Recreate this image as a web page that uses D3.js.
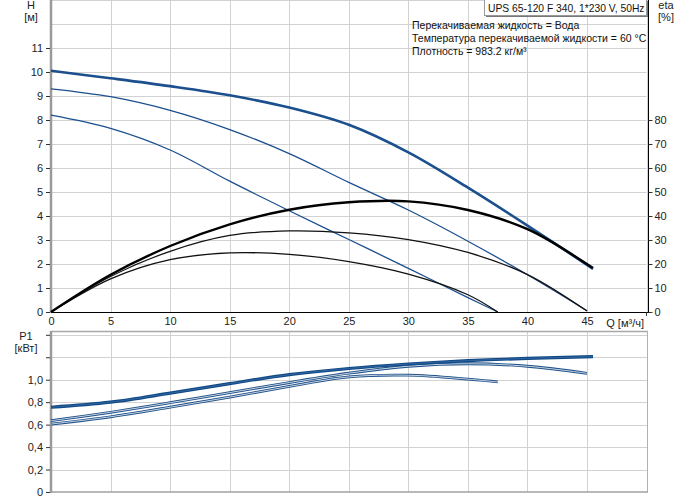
<!DOCTYPE html>
<html><head><meta charset="utf-8">
<script src="https://cdn.jsdelivr.net/npm/d3@7"></script>
<style>
body{margin:0;background:#fff;}
svg{display:block;font-family:"Liberation Sans",Arial,sans-serif;}
</style></head><body>
<svg id="c" width="691" height="500"></svg>
<script>
// ---------- data ----------
const qTicks = [0,5,10,15,20,25,30,35,40,45];
const hTicks = [0,1,2,3,4,5,6,7,8,9,10,11];
const etaTicks = [0,10,20,30,40,50,60,70,80];
const pTicks = [0,0.2,0.4,0.6,0.8,1.0,1.2,1.4];
const pTickLabels = ["0","0,2","0,4","0,6","0,8","1,0","",""];

const qH1 = [0,5,10,15,20,25,30,35,40,45.5];
const H1  = [10.05,9.74,9.41,9.03,8.52,7.8,6.65,5.18,3.6,1.8];
const qH2 = [0,5,10,15,20,25,30,35,40,45];
const H2  = [9.3,8.97,8.4,7.6,6.6,5.4,4.25,2.95,1.55,0.05];
const qH3 = [0,5,10,15,20,25,30,35,37.5];
const H3  = [8.2,7.65,6.75,5.45,4.22,3.02,1.82,0.6,0];

const qE1 = [0,5,10,15,20,25,30,35,40,45.5];
const E1  = [0,15.5,27.5,36.5,42.6,45.7,46.1,42.5,34.5,18.3];
const qE2 = [0,5,10,15,20,25,30,35,40,45];
const E2  = [0,14.8,25.3,31.9,33.8,33.0,30.2,24.8,15.6,0.4];
const qE3 = [0,5,10,15,20,25,30,35,37.5];
const E3  = [0,13.8,21.8,24.6,24.0,21.0,15.8,7.2,0];

const qP1 = [0,5,10,15,20,25,30,35,40,45.5];
const P1a = [0.755,0.80,0.88,0.965,1.045,1.10,1.14,1.17,1.19,1.205];
const qP2 = [0,5,10,15,20,25,30,35,40,45];
const P1b = [0.635,0.71,0.795,0.885,0.975,1.058,1.12,1.142,1.12,1.057];
const qP3 = [0,5,10,15,20,25,30,35,37.5];
const P1c = [0.605,0.67,0.755,0.845,0.94,1.025,1.04,1.005,0.98];

const titleText = "UPS 65-120 F 340, 1*230 V, 50Hz";
const infoLines = ["Перекачиваемая жидкость = Вода",
                   "Температура перекачиваемой жидкости = 60 °C",
                   "Плотность = 983.2 кг/м³"];

// ---------- scales ----------
const svg = d3.select("#c");
const x = d3.scaleLinear().domain([0,50]).range([51,646.6]);
const yH = d3.scaleLinear().domain([0,13]).range([312,0]);
const yE = d3.scaleLinear().domain([0,130]).range([312,0]);
const yP = d3.scaleLinear().domain([0,1.4]).range([492,334.8]);

const gridC = "#d2d2d2";
// ---------- top grid ----------
const gTop = svg.append("g");
gTop.selectAll(".hg").data(d3.range(1,14)).join("line")
  .attr("x1",51).attr("x2",646.6)
  .attr("y1",d=>Math.round(yH(d))+0.5).attr("y2",d=>Math.round(yH(d))+0.5)
  .attr("stroke",gridC).attr("stroke-width",1);
gTop.selectAll(".vg").data(d3.range(5,55,5)).join("line")
  .attr("x1",d=>Math.round(x(d))+0.5).attr("x2",d=>Math.round(x(d))+0.5)
  .attr("y1",0).attr("y2",312)
  .attr("stroke",gridC).attr("stroke-width",1);

// ---------- bottom grid ----------
const gBot = svg.append("g");
gBot.selectAll(".hg").data(pTicks.slice(1)).join("line")
  .attr("x1",51).attr("x2",647)
  .attr("y1",d=>Math.round(yP(d))+0.5).attr("y2",d=>Math.round(yP(d))+0.5)
  .attr("stroke",gridC).attr("stroke-width",1);
gBot.selectAll(".vg").data(d3.range(5,55,5)).join("line")
  .attr("x1",d=>Math.round(x(d))+0.5).attr("x2",d=>Math.round(x(d))+0.5)
  .attr("y1",331).attr("y2",492)
  .attr("stroke",gridC).attr("stroke-width",1);
// bottom frame
svg.append("line").attr("x1",51).attr("x2",648).attr("y1",331.5).attr("y2",331.5).attr("stroke","#a8a8a8").attr("stroke-width",1.5);
svg.append("line").attr("x1",647.5).attr("x2",647.5).attr("y1",331).attr("y2",492).attr("stroke","#b0b0b0");
svg.append("line").attr("x1",51).attr("x2",648).attr("y1",492).attr("y2",492).attr("stroke","#a0a0a0").attr("stroke-width",1.5);

// ---------- axes ----------
const fs = 11;
function styleAxis(g){
  g.select(".domain").remove();
  g.selectAll(".tick line").attr("stroke","#333");
  g.selectAll(".tick text").attr("font-size",fs).attr("fill","#222").attr("font-family","Liberation Sans, Arial, sans-serif");
}
// left H axis
svg.append("line").attr("x1",51).attr("x2",51).attr("y1",0).attr("y2",313).attr("stroke","#9a9a9a").attr("stroke-width",2.5);
svg.append("g").attr("transform","translate(50,0)")
  .call(d3.axisLeft(yH).tickValues(hTicks).tickSize(4).tickPadding(3).tickFormat(d3.format("d")))
  .call(styleAxis);
// right eta axis
svg.append("line").attr("x1",648.5).attr("x2",648.5).attr("y1",0).attr("y2",313).attr("stroke","#000").attr("stroke-width",1);
svg.append("g").attr("transform","translate(648.5,0)")
  .call(d3.axisRight(yE).tickValues(etaTicks).tickSize(4).tickPadding(2).tickFormat(d3.format("d")))
  .call(styleAxis);
// bottom Q axis (top chart)
svg.append("line").attr("x1",51).attr("x2",648).attr("y1",312.5).attr("y2",312.5).attr("stroke","#000");
svg.append("g").attr("transform","translate(0,312.5)")
  .call(d3.axisBottom(x).tickValues(qTicks).tickSize(0).tickPadding(5).tickFormat(d3.format("d")))
  .call(styleAxis);
svg.append("line").attr("x1",646.5).attr("x2",646.5).attr("y1",312).attr("y2",316).attr("stroke","#333");
// left P axis
svg.append("line").attr("x1",51).attr("x2",51).attr("y1",331).attr("y2",493).attr("stroke","#9a9a9a").attr("stroke-width",2.5);
svg.append("g").attr("transform","translate(50,0)")
  .call(d3.axisLeft(yP).tickValues(pTicks).tickSize(4).tickPadding(3).tickFormat((d,i)=>pTickLabels[i]))
  .call(styleAxis);

// axis titles
const lab = (t,xx,yy,anchor="middle")=>svg.append("text").attr("x",xx).attr("y",yy)
  .attr("font-size",fs).attr("fill","#222").attr("text-anchor",anchor).text(t);
lab("H",31,9); lab("[м]",31,21);
lab("eta",666,9); lab("[%]",666,21);
lab("P1",26,340); lab("[кВт]",26,352);
lab("Q [м³/ч]",644,327,"end");

// ---------- curves ----------
const mk = (ys)=>(qs,vs)=>d3.line().curve(d3.curveCatmullRom.alpha(0.5)).x((d,i)=>x(qs[i])).y(d=>ys(d))(vs);
const lineH = mk(yH), lineE = mk(yE), lineP = mk(yP);

const blue = "#1b4f8d";
const curves = svg.append("g").attr("fill","none").attr("stroke-linecap","butt");
curves.append("path").attr("d",lineH(qH3,H3)).attr("stroke",blue).attr("stroke-width",1.3);
curves.append("path").attr("d",lineH(qH2,H2)).attr("stroke",blue).attr("stroke-width",1.3);
curves.append("path").attr("d",lineE(qE3,E3)).attr("stroke","#111").attr("stroke-width",1.3);
curves.append("path").attr("d",lineE(qE2,E2)).attr("stroke","#111").attr("stroke-width",1.3);
curves.append("path").attr("d",lineH(qH1,H1)).attr("stroke",blue).attr("stroke-width",2.6);
curves.append("path").attr("d",lineE(qE1,E1)).attr("stroke","#000").attr("stroke-width",2.4);

// power curves (double-line look)
[[qP3,P1c],[qP2,P1b]].forEach(([qs,vs])=>{
  curves.append("path").attr("d",lineP(qs,vs)).attr("stroke","#1d4f88").attr("stroke-width",2.8);
  curves.append("path").attr("d",lineP(qs,vs)).attr("stroke","#dde5ef").attr("stroke-width",0.9);
});
curves.append("path").attr("d",lineP(qP1,P1a)).attr("stroke","#0f4a86").attr("stroke-width",3.2);
curves.append("path").attr("d",lineP(qP1,P1a)).attr("stroke","#3c6aa3").attr("stroke-width",0.8);

// ---------- title box & info ----------
svg.append("rect").attr("x",486).attr("y",1).attr("width",162).attr("height",16).attr("fill","#777");
svg.append("rect").attr("x",484.5).attr("y",-1).attr("width",162).attr("height",16.5)
  .attr("fill","#fff").attr("stroke","#999");
svg.append("text").attr("x",488).attr("y",11.5).attr("font-size",10.3).attr("fill","#111").text(titleText);
svg.append("g").selectAll("text").data(infoLines).join("text")
  .attr("x",412).attr("y",(d,i)=>29+i*13).attr("font-size",10.5).attr("fill","#111").text(d=>d);
</script>
</body></html>
